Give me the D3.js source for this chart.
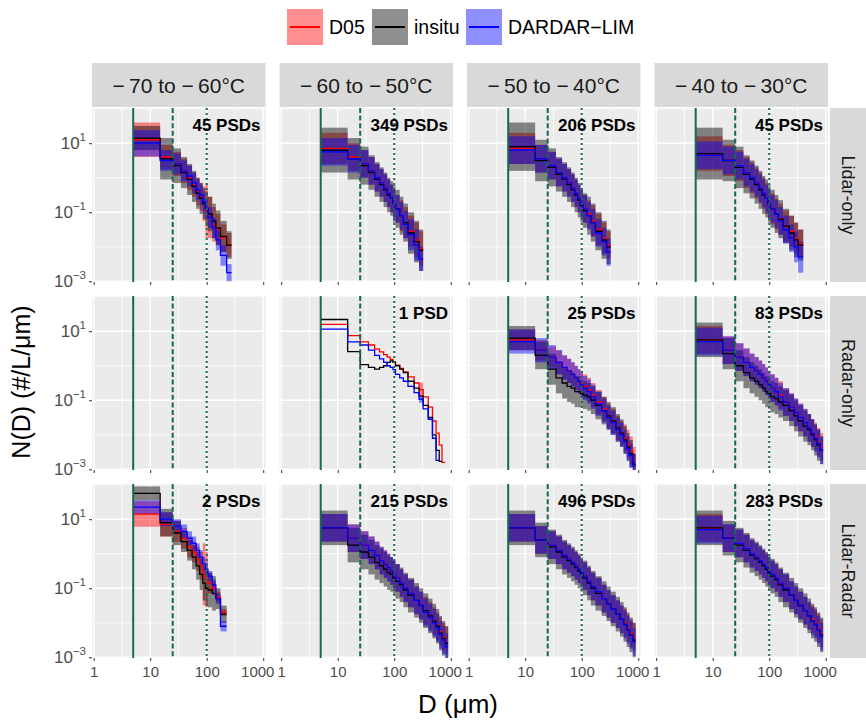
<!DOCTYPE html>
<html><head><meta charset="utf-8">
<script src="https://cdn.jsdelivr.net/npm/d3@7"></script>
<style>body{margin:0;background:#fff}</style>
</head><body><svg id="chart" width="866" height="720"></svg>
<script>
// ---------------- DATA ----------------
// Size-bin edges (µm), shared by all panels
const binEdges = [5,15,25,35,45,55,65,75,85,95,105,125,145,175,225,275,325,400,475,550,625,700,800,900];
const tempLabels = ["\u2212\u200970 to \u2212\u200960°C","\u2212\u200960 to \u2212\u200950°C","\u2212\u200950 to \u2212\u200940°C","\u2212\u200940 to \u2212\u200930°C"];
const rowLabels = ["Lidar-only","Radar-only","Lidar-Radar"];
const psdCounts = [45,349,206,45, 0,1,25,83, 2,215,496,283];
const xTickValues = [1,10,100,1000];
const yTickValues = [10,0.1,0.001];
const yTickExp = ["1","\u22121","\u22123"];
const refLinesD = [5,25,100];

// log10 N(D) per bin, panels in order row by row (Lidar-only, Radar-only, Lidar-Radar) x (-70..-30)
const d05LogN = [
 [1.1,0.6,0.4,0.2,0.0,-0.2,-0.4,-0.55,-0.75,-0.95,-1.15,-1.35,-1.5,-1.75,-1.95],
 [0.85,0.6,0.4,0.2,0.0,-0.15,-0.3,-0.45,-0.6,-0.75,-0.9,-1.1,-1.3,-1.55,-1.8,-2.05],
 [0.85,0.55,0.35,0.15,0.0,-0.15,-0.3,-0.45,-0.6,-0.75,-0.9,-1.05,-1.25,-1.5,-1.75,-1.95],
 [0.7,0.5,0.35,0.15,0.0,-0.15,-0.3,-0.45,-0.6,-0.75,-0.9,-1.05,-1.2,-1.4,-1.55,-1.75,-1.9],
 [],
 [1.2,0.87,0.69,0.6,0.48,0.4,0.32,0.25,0.18,0.12,0.02,-0.08,-0.18,-0.32,-0.5,-0.69,-0.9,-1.2,-1.6,-1.95,-2.3,-2.8],
 [0.75,0.45,0.25,0.1,-0.05,-0.15,-0.25,-0.35,-0.45,-0.5,-0.6,-0.7,-0.85,-1.05,-1.25,-1.45,-1.6,-1.8,-1.95,-2.1,-2.25,-2.45,-2.7],
 [0.75,0.45,0.25,0.1,-0.05,-0.15,-0.25,-0.35,-0.45,-0.55,-0.65,-0.75,-0.85,-1.05,-1.2,-1.35,-1.5,-1.65,-1.8,-1.95,-2.05,-2.2,-2.35],
 [1.15,0.85,0.65,0.45,0.2,0.05,-0.15,-0.35,-0.6,-0.75,-0.85,-1.0,-1.25,-1.7],
 [0.75,0.45,0.25,0.1,-0.05,-0.2,-0.3,-0.4,-0.5,-0.6,-0.7,-0.85,-1.0,-1.15,-1.35,-1.5,-1.65,-1.8,-1.95,-2.1,-2.25,-2.4,-2.5],
 [0.75,0.4,0.25,0.1,-0.05,-0.15,-0.25,-0.35,-0.45,-0.55,-0.65,-0.8,-0.95,-1.1,-1.3,-1.45,-1.6,-1.75,-1.9,-2.0,-2.15,-2.3,-2.4],
 [0.75,0.45,0.3,0.15,0.0,-0.1,-0.2,-0.3,-0.4,-0.5,-0.6,-0.7,-0.85,-1.0,-1.2,-1.35,-1.5,-1.65,-1.8,-1.9,-2.0,-2.15,-2.3]
];
const d05Spread = [
 [0.5,0.35,0.35,0.35,0.35,0.35,0.4,0.4,0.5,0.8,0.6,0.5,0.45,0.4,0.35],
 [0.45,0.4,0.4,0.4,0.4,0.4,0.4,0.4,0.4,0.4,0.4,0.45,0.45,0.45,0.5,0.5],
 [0.45,0.4,0.4,0.4,0.4,0.4,0.4,0.4,0.4,0.4,0.4,0.4,0.45,0.45,0.45,0.4],
 [0.5,0.45,0.45,0.45,0.45,0.45,0.45,0.45,0.45,0.45,0.45,0.45,0.45,0.45,0.45,0.45,0.4],
 [],
 [0,0,0,0,0,0,0,0,0,0,0,0,0,0,0,0.2,0,0,0,0,0,0],
 [0.3,0.3,0.3,0.35,0.35,0.35,0.35,0.35,0.35,0.35,0.35,0.35,0.35,0.35,0.35,0.35,0.35,0.35,0.35,0.4,0.4,0.4,0.35],
 [0.4,0.4,0.4,0.4,0.4,0.4,0.4,0.4,0.4,0.4,0.4,0.4,0.4,0.4,0.4,0.4,0.4,0.4,0.4,0.4,0.4,0.4,0.4],
 [0.37,0.35,0.3,0.3,0.3,0.3,0.35,0.4,0.9,0.8,0.3,0.2,0.15,0.1],
 [0.4,0.4,0.4,0.4,0.4,0.4,0.4,0.4,0.4,0.4,0.4,0.4,0.4,0.4,0.4,0.4,0.4,0.4,0.4,0.4,0.4,0.4,0.4],
 [0.4,0.4,0.4,0.4,0.4,0.4,0.4,0.4,0.4,0.4,0.4,0.4,0.4,0.4,0.4,0.4,0.4,0.4,0.4,0.4,0.4,0.4,0.4],
 [0.4,0.4,0.4,0.4,0.4,0.4,0.4,0.4,0.4,0.4,0.4,0.4,0.4,0.4,0.4,0.4,0.4,0.4,0.4,0.4,0.4,0.4,0.4]
];
const insituLogN = [
 [1.15,0.55,0.35,0.15,-0.05,-0.25,-0.45,-0.6,-0.75,-0.9,-1.05,-1.25,-1.45,-1.7,-1.95],
 [0.8,0.55,0.35,0.15,-0.05,-0.2,-0.35,-0.5,-0.6,-0.75,-0.9,-1.1,-1.3,-1.6,-1.85,-2.1],
 [0.9,0.5,0.3,0.1,-0.05,-0.2,-0.35,-0.5,-0.65,-0.8,-0.95,-1.1,-1.3,-1.55,-1.8,-2.0],
 [0.7,0.5,0.3,0.1,-0.05,-0.2,-0.35,-0.5,-0.6,-0.75,-0.9,-1.05,-1.2,-1.4,-1.6,-1.8,-1.95],
 [],
 [1.34,0.41,0.03,-0.05,-0.1,-0.05,0.0,0.1,0.14,0.1,0.0,-0.1,-0.2,-0.45,-0.65,-0.88,-1.15,-1.5,-2.0,-2.45,-2.77],
 [0.8,0.3,-0.1,-0.35,-0.5,-0.6,-0.65,-0.75,-0.75,-0.8,-0.85,-0.9,-1.0,-1.15,-1.3,-1.45,-1.6,-1.8,-1.95,-2.15,-2.35,-2.55,-2.85],
 [0.75,0.35,0.0,-0.2,-0.35,-0.45,-0.55,-0.65,-0.75,-0.8,-0.9,-0.95,-1.05,-1.15,-1.3,-1.45,-1.6,-1.75,-1.85,-2.0,-2.15,-2.3,-2.45],
 [1.75,0.9,0.6,0.35,0.1,-0.1,-0.35,-0.6,-0.85,-1.0,-1.05,-1.15,-1.3,-1.75],
 [0.75,0.25,0.05,-0.1,-0.25,-0.35,-0.45,-0.55,-0.6,-0.7,-0.8,-0.9,-1.05,-1.2,-1.35,-1.5,-1.65,-1.8,-1.95,-2.1,-2.3,-2.45,-2.6],
 [0.75,0.4,0.2,0.05,-0.1,-0.2,-0.3,-0.4,-0.5,-0.6,-0.7,-0.85,-1.0,-1.15,-1.3,-1.45,-1.6,-1.75,-1.9,-2.05,-2.2,-2.35,-2.5],
 [0.75,0.45,0.25,0.1,-0.05,-0.15,-0.25,-0.35,-0.45,-0.55,-0.65,-0.75,-0.9,-1.05,-1.2,-1.35,-1.5,-1.65,-1.8,-1.95,-2.05,-2.2,-2.35]
];
const insituSpread = [
 [0.35,0.6,0.5,0.45,0.45,0.45,0.45,0.45,0.45,0.5,0.5,0.5,0.5,0.45,0.4],
 [0.65,0.6,0.55,0.5,0.5,0.5,0.5,0.5,0.5,0.55,0.55,0.55,0.55,0.6,0.6,0.6],
 [0.7,0.6,0.55,0.5,0.5,0.5,0.5,0.5,0.5,0.5,0.5,0.55,0.55,0.55,0.55,0.5],
 [0.75,0.6,0.6,0.55,0.55,0.55,0.55,0.55,0.55,0.55,0.55,0.55,0.55,0.5,0.5,0.5,0.45],
 [],
 [0,0,0,0,0,0,0,0,0,0,0,0,0,0,0,0,0,0,0,0,0],
 [0.35,0.4,0.45,0.45,0.45,0.45,0.45,0.45,0.45,0.4,0.4,0.4,0.4,0.4,0.4,0.4,0.4,0.4,0.4,0.4,0.4,0.4,0.3],
 [0.5,0.45,0.45,0.45,0.45,0.45,0.45,0.45,0.45,0.45,0.45,0.45,0.45,0.45,0.45,0.45,0.45,0.45,0.45,0.45,0.45,0.45,0.4],
 [0.2,0.4,0.35,0.3,0.3,0.35,0.4,0.45,0.5,0.5,0.5,0.5,0.3,0.25],
 [0.5,0.5,0.5,0.5,0.5,0.5,0.5,0.5,0.5,0.5,0.5,0.5,0.5,0.5,0.5,0.5,0.5,0.5,0.5,0.5,0.5,0.5,0.5],
 [0.5,0.5,0.5,0.5,0.5,0.5,0.5,0.5,0.5,0.5,0.5,0.5,0.5,0.5,0.5,0.5,0.5,0.5,0.5,0.5,0.5,0.5,0.5],
 [0.5,0.5,0.5,0.5,0.5,0.5,0.5,0.5,0.5,0.5,0.5,0.5,0.5,0.5,0.5,0.5,0.5,0.5,0.5,0.5,0.5,0.5,0.5]
];
const dardarLogN = [
 [1.0,0.5,0.4,0.2,0.05,-0.15,-0.35,-0.5,-0.7,-0.9,-1.15,-1.45,-1.8,-2.25,-2.75],
 [0.75,0.55,0.4,0.2,0.0,-0.15,-0.3,-0.45,-0.6,-0.75,-0.9,-1.1,-1.35,-1.65,-1.95,-2.35],
 [0.8,0.55,0.35,0.15,0.0,-0.15,-0.3,-0.45,-0.6,-0.75,-0.9,-1.1,-1.3,-1.6,-1.85,-2.15],
 [0.65,0.5,0.35,0.15,0.0,-0.15,-0.3,-0.45,-0.6,-0.75,-0.9,-1.05,-1.25,-1.5,-1.75,-2.0,-2.3],
 [],
 [1.06,0.69,0.6,0.45,0.3,0.2,0.1,0.0,-0.05,-0.11,-0.25,-0.35,-0.45,-0.6,-0.78,-0.97,-1.25,-1.55,-2.1,-2.74],
 [0.7,0.45,0.25,0.1,-0.05,-0.15,-0.25,-0.35,-0.45,-0.55,-0.65,-0.75,-0.9,-1.1,-1.3,-1.5,-1.65,-1.85,-2.0,-2.2,-2.4,-2.6,-2.9],
 [0.7,0.45,0.25,0.1,-0.05,-0.15,-0.25,-0.35,-0.45,-0.55,-0.65,-0.75,-0.9,-1.05,-1.2,-1.35,-1.5,-1.65,-1.8,-1.95,-2.1,-2.25,-2.45],
 [1.35,1.0,0.8,0.65,0.45,0.3,0.1,-0.1,-0.3,-0.45,-0.65,-0.9,-1.3,-2.1],
 [0.75,0.45,0.25,0.1,-0.05,-0.2,-0.3,-0.4,-0.5,-0.6,-0.7,-0.85,-1.0,-1.15,-1.35,-1.5,-1.7,-1.85,-2.0,-2.15,-2.35,-2.5,-2.7],
 [0.75,0.4,0.25,0.1,-0.05,-0.15,-0.25,-0.35,-0.45,-0.55,-0.65,-0.8,-0.95,-1.1,-1.3,-1.45,-1.6,-1.75,-1.9,-2.05,-2.2,-2.35,-2.55],
 [0.7,0.45,0.3,0.15,0.0,-0.1,-0.2,-0.3,-0.4,-0.5,-0.6,-0.7,-0.85,-1.0,-1.2,-1.35,-1.5,-1.65,-1.8,-1.95,-2.05,-2.2,-2.4]
];
const dardarSpread = [
 [0.38,0.3,0.3,0.3,0.3,0.3,0.3,0.3,0.3,0.3,0.3,0.3,0.3,0.3,0.25],
 [0.4,0.4,0.4,0.4,0.4,0.4,0.4,0.4,0.4,0.4,0.4,0.4,0.4,0.45,0.45,0.35],
 [0.4,0.4,0.4,0.4,0.4,0.4,0.4,0.4,0.4,0.4,0.4,0.4,0.4,0.4,0.4,0.4],
 [0.4,0.4,0.4,0.4,0.4,0.4,0.4,0.4,0.4,0.4,0.4,0.4,0.4,0.4,0.4,0.45,0.45],
 [],
 [0,0,0,0,0,0,0,0,0,0,0,0,0,0,0,0.1,0,0,0,0],
 [0.35,0.35,0.35,0.35,0.35,0.35,0.35,0.35,0.35,0.35,0.35,0.35,0.35,0.35,0.35,0.35,0.35,0.35,0.35,0.35,0.35,0.35,0.35],
 [0.4,0.4,0.4,0.4,0.4,0.4,0.4,0.4,0.4,0.4,0.4,0.4,0.4,0.4,0.4,0.4,0.4,0.4,0.4,0.4,0.4,0.4,0.4],
 [0.2,0.2,0.2,0.2,0.2,0.2,0.2,0.2,0.2,0.2,0.15,0.15,0.15,0.15],
 [0.4,0.4,0.4,0.4,0.4,0.4,0.4,0.4,0.4,0.4,0.4,0.4,0.4,0.4,0.4,0.4,0.4,0.4,0.4,0.4,0.4,0.4,0.4],
 [0.4,0.4,0.4,0.4,0.4,0.4,0.4,0.4,0.4,0.4,0.4,0.4,0.4,0.4,0.4,0.4,0.4,0.4,0.4,0.4,0.4,0.4,0.4],
 [0.4,0.4,0.4,0.4,0.4,0.4,0.4,0.4,0.4,0.4,0.4,0.4,0.4,0.4,0.4,0.4,0.4,0.4,0.4,0.4,0.4,0.4,0.4]
];
const seriesNames = ["D05","insitu","DARDAR\u2212LIM"];
const seriesColors = ["#ff0000","#000000","#0000ff"];

// ---------------- DRAW ----------------
const FONT = "'Liberation Sans', Arial, Helvetica, sans-serif";
const svg = d3.select("#chart").style("font-family", FONT);
const panelW = 173.5, panelH = 174, stepX = 187.5, stepY = 188, left0 = 92, top0 = 108;
const x = d3.scaleLog().domain([Math.pow(10,-0.03), Math.pow(10,3.04)]).range([0, panelW]);
const y = d3.scaleLog().domain([Math.pow(10,-3.02), Math.pow(10,2.02)]).range([panelH, 0]);
const minorX = [3.1623, 31.623, 316.23];
const minorY = [100, 1, 0.01];
const series = seriesNames.map((n,i)=>({name:n,color:seriesColors[i],
  mean:[d05LogN,insituLogN,dardarLogN][i], spread:[d05Spread,insituSpread,dardarSpread][i]}));
const green = "#15694f";
const line = d3.line().x(d=>x(d[0])).y(d=>y(Math.pow(10,d[1])));

for (let r=0;r<3;r++) for (let c=0;c<4;c++){
  const p = r*4+c;
  const g = svg.append("g").attr("transform",`translate(${left0+c*stepX},${top0+r*stepY})`);
  g.append("rect").attr("width",panelW).attr("height",panelH).attr("fill","#ebebeb");
  const cid = "clip"+p;
  g.append("clipPath").attr("id",cid).append("rect").attr("width",panelW).attr("height",panelH);
  // grid
  g.selectAll(".mgx").data(minorX).join("line").attr("x1",d=>x(d)).attr("x2",d=>x(d))
    .attr("y1",0).attr("y2",panelH).attr("stroke","#fff").attr("stroke-width",0.8);
  g.selectAll(".mgy").data(minorY).join("line").attr("y1",d=>y(d)).attr("y2",d=>y(d))
    .attr("x1",0).attr("x2",panelW).attr("stroke","#fff").attr("stroke-width",0.8);
  g.selectAll(".Mgx").data(xTickValues).join("line").attr("x1",d=>x(d)).attr("x2",d=>x(d))
    .attr("y1",0).attr("y2",panelH).attr("stroke","#fff").attr("stroke-width",1.4);
  g.selectAll(".Mgy").data(yTickValues).join("line").attr("y1",d=>y(d)).attr("y2",d=>y(d))
    .attr("x1",0).attr("x2",panelW).attr("stroke","#fff").attr("stroke-width",1.4);

  const dg = g.append("g").attr("clip-path",`url(#${cid})`);
  // ribbons
  series.forEach(s=>{
    const m = s.mean[p], sp = s.spread[p];
    const bins = m.map((v,i)=>({x0:binEdges[i],x1:binEdges[i+1],v,sp:sp[i]})).filter(b=>b.sp>0);
    dg.append("g").selectAll("rect").data(bins).join("rect")
      .attr("x",b=>x(b.x0)).attr("width",b=>x(b.x1)-x(b.x0))
      .attr("y",b=>y(Math.pow(10,b.v+b.sp))).attr("height",b=>y(Math.pow(10,b.v-b.sp))-y(Math.pow(10,b.v+b.sp)))
      .attr("fill",s.color).attr("fill-opacity",0.45);
  });
  // step lines
  series.forEach(s=>{
    const m = s.mean[p];
    if (!m.length) return;
    const pts = [];
    m.forEach((v,i)=>{pts.push([binEdges[i],v]);pts.push([binEdges[i+1],v]);});
    dg.append("path").attr("d",line(pts)).attr("fill","none").attr("stroke",s.color)
      .attr("stroke-width",1.3).attr("stroke-linejoin","miter");
  });
  // reference lines
  const dashes = [null,"5,2.6","2,3"];
  refLinesD.forEach((d,i)=>{
    g.append("line").attr("x1",x(d)).attr("x2",x(d)).attr("y1",0).attr("y2",panelH)
      .attr("stroke",green).attr("stroke-width",2).attr("stroke-dasharray",dashes[i]);
  });
  // count label
  if (psdCounts[p]>0){
    g.append("text").attr("x",panelW-5).attr("y",23).attr("text-anchor","end")
      .attr("font-weight","bold").attr("font-size",17).attr("fill","#000")
      .text(psdCounts[p]+(psdCounts[p]===1?" PSD":" PSDs"));
  }
  // x axis ticks
  const xa = g.append("g").attr("transform",`translate(0,${panelH})`)
    .call(d3.axisBottom(x).tickValues(xTickValues).tickSize(3).tickPadding(5)
      .tickFormat(r===2? d3.format("d") : ()=>""));
  xa.select(".domain").remove();
  xa.selectAll(".tick line").attr("stroke","#333").attr("stroke-width",1);
  xa.selectAll(".tick text").attr("fill","#4d4d4d").attr("font-size",15).attr("font-family",FONT)
    .attr("dx",d=>d===1000?-6:0);
  // y axis
  if (c===0){
    const ya = g.append("g").call(d3.axisLeft(y).tickValues(yTickValues).tickSize(3).tickFormat(()=>""));
    ya.select(".domain").remove();
    ya.selectAll(".tick line").attr("stroke","#333");
    ya.selectAll(".tick").each(function(d,i){
      const t = d3.select(this).append("text").attr("x",-6).attr("y",5).attr("text-anchor","end")
        .attr("fill","#4d4d4d").attr("font-family",FONT);
      t.append("tspan").attr("font-size",17).text("10");
      t.append("tspan").attr("font-size",11.5).attr("dy",-8).text(yTickExp[i]);
    });
  }
  // strips
  if (r===0){
    svg.append("rect").attr("x",left0+c*stepX).attr("y",63).attr("width",panelW).attr("height",44).attr("fill","#d9d9d9");
    svg.append("text").attr("x",left0+c*stepX+panelW/2).attr("y",93).attr("text-anchor","middle")
      .attr("font-size",21).attr("fill","#1a1a1a").text(tempLabels[c]);
  }
  if (c===3){
    const sx = left0+3*stepX+panelW+2, sy = top0+r*stepY;
    svg.append("rect").attr("x",sx).attr("y",sy).attr("width",36).attr("height",panelH).attr("fill","#d9d9d9");
    svg.append("text").attr("transform",`translate(${sx+18},${sy+panelH/2}) rotate(90)`)
      .attr("text-anchor","middle").attr("dy","0.36em").attr("font-size",18).attr("fill","#1a1a1a").text(rowLabels[r]);
  }
}

// axis titles
svg.append("text").attr("x",458).attr("y",713).attr("text-anchor","middle").attr("font-size",26).attr("fill","#000").text("D (\u03bcm)");
svg.append("text").attr("transform","translate(30,382) rotate(-90)").attr("text-anchor","middle")
  .attr("font-size",25).attr("fill","#000").text("N(D) (#/L/\u03bcm)");

// legend
const legX = [287,372,466];
series.forEach((s,i)=>{
  const lg = svg.append("g").attr("transform",`translate(${legX[i]},9)`);
  lg.append("rect").attr("width",36).attr("height",36).attr("fill","#fff");
  lg.append("rect").attr("width",36).attr("height",36).attr("fill",s.color).attr("fill-opacity",0.44);
  lg.append("line").attr("x1",3).attr("x2",33).attr("y1",18).attr("y2",18).attr("stroke",s.color).attr("stroke-width",2);
  lg.append("text").attr("x",42).attr("y",25).attr("font-size",19.5).attr("fill","#000").text(s.name);
});
</script></body></html>
